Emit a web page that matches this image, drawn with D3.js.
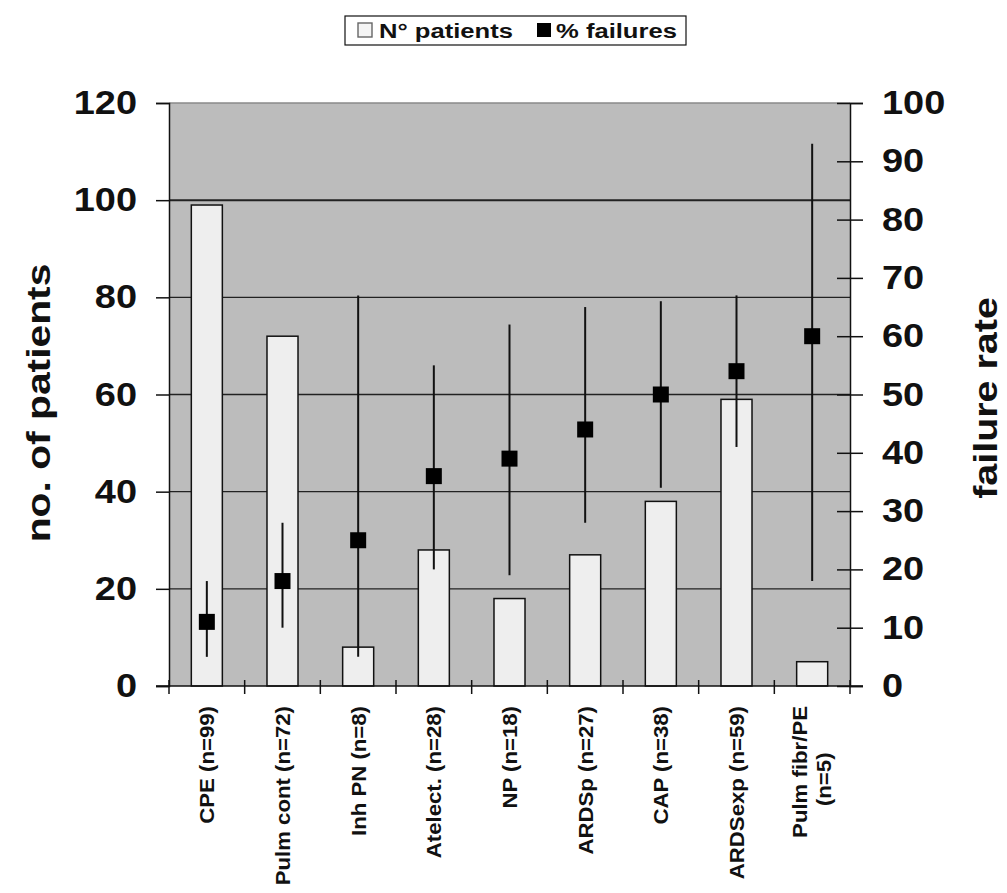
<!DOCTYPE html>
<html>
<head>
<meta charset="utf-8">
<script src="https://cdn.jsdelivr.net/npm/d3@7"></script>
<style>
body { margin: 0; background: #fff; }
text { font-family: "Liberation Sans", Arial, sans-serif; font-weight: bold; fill: #111; }
</style>
</head>
<body>
<div id="chart"></div>
<script>
var categories = ["CPE (n=99)", "Pulm cont (n=72)", "Inh PN (n=8)", "Atelect. (n=28)", "NP (n=18)",
    "ARDSp (n=27)", "CAP (n=38)", "ARDSexp (n=59)", "Pulm fibr/PE|(n=5)"];
var patients = [99, 72, 8, 28, 18, 27, 38, 59, 5];
var failures = [11, 18, 25, 36, 39, 44, 50, 54, 60];
var failHigh = [18, 28, 67, 55, 62, 65, 66, 67, 93];
var failLow = [5, 10, 5, 20, 19, 28, 34, 41, 18];
var leftTicks = [0, 20, 40, 60, 80, 100, 120];
var rightTicks = [0, 10, 20, 30, 40, 50, 60, 70, 80, 90, 100];

var plot = {x1: 169, x2: 850, y1: 103, y2: 686};
var stretch = 1.15; // the original lettering is a bit wider than Liberation Sans

var svg = d3.select("#chart").append("svg").attr("width", 1007).attr("height", 893);

var x = d3.scaleBand().domain(categories).range([plot.x1, plot.x2]);
var yL = d3.scaleLinear().domain([0, 120]).range([plot.y2, plot.y1]);
var yR = d3.scaleLinear().domain([0, 100]).range([plot.y2, plot.y1]);

// plot background
svg.append("rect").attr("x", plot.x1).attr("y", plot.y1)
    .attr("width", plot.x2 - plot.x1).attr("height", plot.y2 - plot.y1)
    .attr("fill", "#bcbcbc");

// gridlines
svg.append("g").selectAll("line").data(leftTicks.filter(function(d) { return d > 0; }))
    .enter().append("line")
    .attr("x1", plot.x1).attr("x2", plot.x2)
    .attr("y1", function(d) { return yL(d); }).attr("y2", function(d) { return yL(d); })
    .attr("stroke", function(d) { return d == 120 ? "#8a8a8a" : "#222"; })
    .attr("stroke-width", function(d) { return d == 100 ? 2 : 1.4; });

// bars
var bw = x.bandwidth() * 0.41;
svg.append("g").selectAll("rect").data(patients).enter().append("rect")
    .attr("x", function(d, i) { return x(categories[i]) + x.bandwidth() / 2 - bw / 2; })
    .attr("y", function(d) { return yL(d); })
    .attr("width", bw)
    .attr("height", function(d) { return yL(0) - yL(d); })
    .attr("fill", "#eeeeee").attr("stroke", "#111").attr("stroke-width", 1.5);

// error bars
svg.append("g").selectAll("line").data(failures).enter().append("line")
    .attr("x1", function(d, i) { return x(categories[i]) + x.bandwidth() / 2; })
    .attr("x2", function(d, i) { return x(categories[i]) + x.bandwidth() / 2; })
    .attr("y1", function(d, i) { return yR(failHigh[i]); })
    .attr("y2", function(d, i) { return yR(failLow[i]); })
    .attr("stroke", "#111").attr("stroke-width", 2);

// failure squares
var sq = 16;
svg.append("g").selectAll("rect").data(failures).enter().append("rect")
    .attr("x", function(d, i) { return x(categories[i]) + x.bandwidth() / 2 - sq / 2; })
    .attr("y", function(d) { return yR(d) - sq / 2; })
    .attr("width", sq).attr("height", sq).attr("fill", "#000");

function styleTicks(g) {
    g.select(".domain").attr("stroke", "#111").attr("stroke-width", 1.5);
    g.selectAll(".tick line").attr("stroke", "#111").attr("stroke-width", 1.5);
    g.selectAll(".tick text").style("font-size", "33px").style("font-family", "Liberation Sans, Arial, sans-serif")
        .style("font-weight", "bold").attr("fill", "#111")
        .attr("transform", function() {
            var tx = +d3.select(this).attr("x");
            return "translate(" + tx + ",0) scale(" + stretch + ",1) translate(" + (-tx) + ",0)";
        });
}

// left axis
var gl = svg.append("g").attr("transform", "translate(" + plot.x1 + ",0)")
    .call(d3.axisLeft(yL).tickValues(leftTicks).tickSize(13).tickPadding(19));
styleTicks(gl);

// right axis
var gr = svg.append("g").attr("transform", "translate(" + plot.x2 + ",0)")
    .call(d3.axisRight(yR).tickValues(rightTicks).tickSize(13).tickPadding(19));
styleTicks(gr);
gr.selectAll(".tick line").attr("x1", -13);

// bottom axis with ticks at band boundaries
var bounds = categories.map(function(c) { return x(c); }).concat([plot.x2]);
svg.append("line").attr("x1", plot.x1 - 13).attr("x2", plot.x2 + 13)
    .attr("y1", plot.y2).attr("y2", plot.y2).attr("stroke", "#111").attr("stroke-width", 1.5);
svg.append("g").selectAll("line").data(bounds).enter().append("line")
    .attr("x1", function(d) { return d; }).attr("x2", function(d) { return d; })
    .attr("y1", plot.y2 - 6).attr("y2", plot.y2 + 8)
    .attr("stroke", "#111").attr("stroke-width", 1.5);

// x labels, rotated; a "|" splits a label onto two lines
var xg = svg.append("g");
categories.forEach(function(c) {
    var parts = c.split("|");
    var g = xg.append("g").attr("transform", "translate(" + (x(c) + x.bandwidth() / 2) + "," + (plot.y2 + 20) +
        ") rotate(-90) scale(1.11,1)");
    if (parts.length == 1) {
        g.append("text").attr("text-anchor", "end").attr("y", 7.5).style("font-size", "20px").text(c);
    } else {
        g.append("text").attr("text-anchor", "end").attr("y", -5).style("font-size", "20px").text(parts[0]);
        g.append("text").attr("text-anchor", "middle").attr("x", -66).attr("y", 19).style("font-size", "20px").text(parts[1]);
    }
});

// axis titles
svg.append("text").attr("transform", "translate(50,403) rotate(-90) scale(1.2,1)")
    .attr("text-anchor", "middle").style("font-size", "34px").text("no. of patients");
svg.append("text").attr("transform", "translate(997,398) rotate(-90) scale(1.16,1)")
    .attr("text-anchor", "middle").style("font-size", "34px").text("failure rate");

// legend
var lg = svg.append("g");
lg.append("rect").attr("x", 345).attr("y", 16).attr("width", 341).attr("height", 29)
    .attr("fill", "#fff").attr("stroke", "#111").attr("stroke-width", 1.2);
lg.append("rect").attr("x", 358).attr("y", 23).attr("width", 14).attr("height", 14)
    .attr("fill", "#f4f4f4").attr("stroke", "#666").attr("stroke-width", 1.4);
lg.append("text").attr("transform", "translate(379,38) scale(1.22,1)").style("font-size", "21px").text("N° patients");
lg.append("rect").attr("x", 537).attr("y", 23).attr("width", 14).attr("height", 14).attr("fill", "#000");
lg.append("text").attr("transform", "translate(556,38) scale(1.22,1)").style("font-size", "21px").text("% failures");
</script>
</body>
</html>
